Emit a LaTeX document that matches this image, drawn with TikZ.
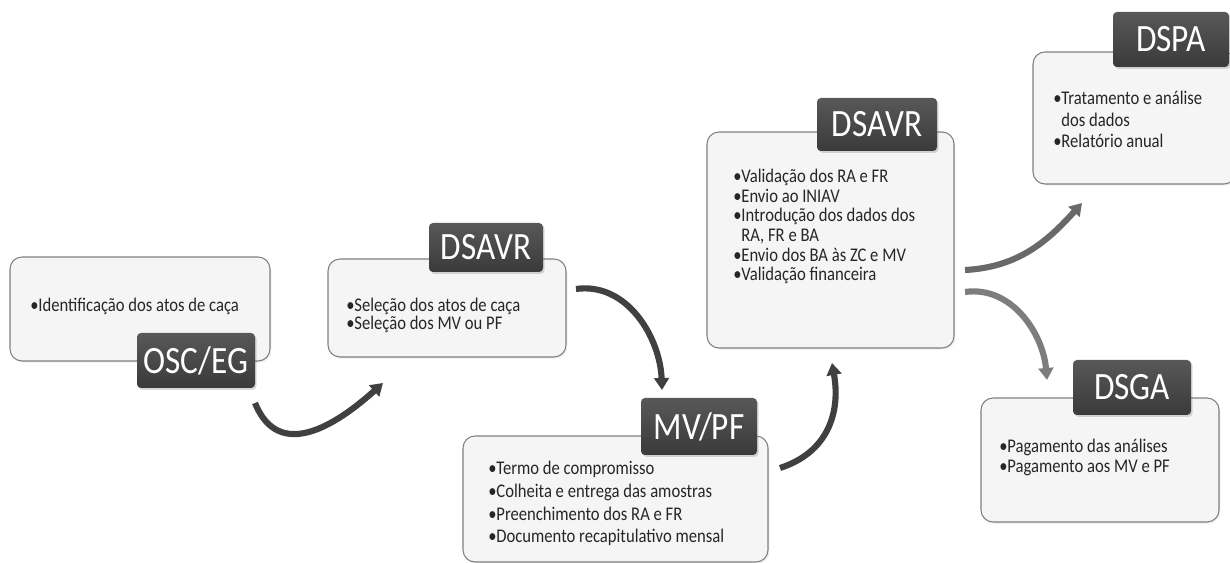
\documentclass[tikz,border=0pt]{standalone}
\usepackage{fontspec}
\setmainfont{Carlito}[FakeStretch=0.86]
\usetikzlibrary{arrows.meta, shadows}
\definecolor{boxFill}{RGB}{245, 245, 245}
\definecolor{boxLine}{RGB}{128, 128, 128}
\definecolor{lblTop} {RGB}{88,  88,  88}
\definecolor{lblBot} {RGB}{58,  58,  58}
\definecolor{arrDark}{RGB}{64,  64,  64}
\definecolor{arrMid} {RGB}{105, 105, 105}
\definecolor{arrLight}{RGB}{125, 125, 125}

\newcommand{\bul}{\makebox[0.42em][l]{•}}
\newcommand{\cont}{\hspace*{0.42em}}

\tikzset{
  box/.style={draw=boxLine, fill=boxFill, line width=0.8pt, rounded corners=9pt, inner sep=0pt,
    drop shadow={opacity=0.15, shadow xshift=1pt, shadow yshift=-1.2pt}},
  lbl/.style={top color=lblTop, bottom color=lblBot, draw=none, rounded corners=3pt, inner sep=0pt,
    text=white, font=\fontsize{29}{30}\selectfont,
    drop shadow={opacity=0.3, shadow xshift=1.2pt, shadow yshift=-1.5pt}},
  txt/.style={anchor=north west, inner sep=0pt, align=left, text=black!85},
  flow/.style={line width=4.6pt, -{Triangle[width=11pt, length=9pt]}}
}

\begin{document}
\begin{tikzpicture}[x=0.75pt, y=0.75pt]
  \useasboundingbox (0,0) rectangle (1230,563);
  \clip (0,0) rectangle (1230,563);

  \node[box, minimum width=195pt,    minimum height=78pt]   (osc)    at (140,254)    {};
  \node[box, minimum width=178.5pt,  minimum height=73.5pt] (dsavrA) at (447,255)    {};
  \node[box, minimum width=228.75pt, minimum height=94.5pt] (mvpf)   at (615.5,64)   {};
  \node[box, minimum width=185.25pt, minimum height=162pt]  (dsavrB) at (830.5,323)  {};
  \node[box, minimum width=152.25pt, minimum height=99pt]   (dspa)   at (1134.5,445) {};
  \node[box, minimum width=178.5pt,  minimum height=93pt]   (dsga)   at (1100,103)   {};

  \node[lbl, minimum width=88.5pt, minimum height=41.25pt] (oscL)    at (196,202.5) {OSC/EG};
  \node[lbl, minimum width=85.5pt, minimum height=36.75pt] (dsavrAL) at (486,315.5) {DSAVR};
  \node[lbl, minimum width=87pt,   minimum height=42.75pt] (mvpfL)   at (699,136.5) {MV/PF};
  \node[lbl, minimum width=90pt,   minimum height=39.75pt] (dsavrBL) at (877,438.5) {DSAVR};
  \node[lbl, minimum width=87pt,   minimum height=41.25pt] (dspaL)   at (1171,523.5) {DSPA};
  \node[lbl, minimum width=88.5pt, minimum height=41.25pt] (dsgaL)   at (1132,175.5) {DSGA};

  \node[txt, font=\fontsize{14.5}{17}\selectfont] (oscT) at (30,265)
    {\bul Identificação dos atos de caça};
  \node[txt, font=\fontsize{14.5}{13.5}\selectfont] (dsavrAT) at (346,265)
    {\bul Seleção dos atos de caça\\ \bul Seleção dos MV ou PF};
  \node[txt, font=\fontsize{14.5}{17}\selectfont] (mvpfT) at (488,102)
    {\bul Termo de compromisso\\ \bul Colheita e entrega das amostras\\
     \bul Preenchimento dos RA e FR\\ \bul Documento recapitulativo mensal};
  \node[txt, font=\fontsize{14.5}{14.7}\selectfont] (dsavrBT) at (733,394)
    {\bul Validação dos RA e FR\\ \bul Envio ao INIAV\\ \bul Introdução dos dados dos\\
     \cont RA, FR e BA\\ \bul Envio dos BA às ZC e MV\\ \bul Validação financeira};
  \node[txt, font=\fontsize{14.5}{16}\selectfont] (dspaT) at (1053,472)
    {\bul Tratamento e análise\\ \cont dos dados\\ \bul Relatório anual};
  \node[txt, font=\fontsize{14.5}{15}\selectfont] (dsgaT) at (999,124)
    {\bul Pagamento das análises\\ \bul Pagamento aos MV e PF};

  \coordinate (a1s) at (255,160);
  \coordinate (a1e) at (383,180);
  \coordinate (a2s) at (576,274);
  \coordinate (a2e) at (662,173);
  \coordinate (a3s) at (780,95);
  \coordinate (a3e) at (832,200);
  \coordinate (a4s) at (965,293);
  \coordinate (a4e) at (1082,360);
  \coordinate (a5s) at (965,271);
  \coordinate (a5e) at (1047,183);

  \draw[flow, color=arrDark]  (a1s) to[out=-68, in=222, looseness=1.25] (a1e);
  \draw[flow, color=arrDark]  (a2s) to[out=8,   in=92]  (a2e);
  \draw[flow, color=arrDark]  (a3s) to[out=18,  in=-80, looseness=1.1] (a3e);
  \draw[flow, color=arrMid]   (a4s) to[out=3,   in=228] (a4e);
  \draw[flow, color=arrLight] (a5s) to[out=8,   in=95]  (a5e);
\end{tikzpicture}
\end{document}
